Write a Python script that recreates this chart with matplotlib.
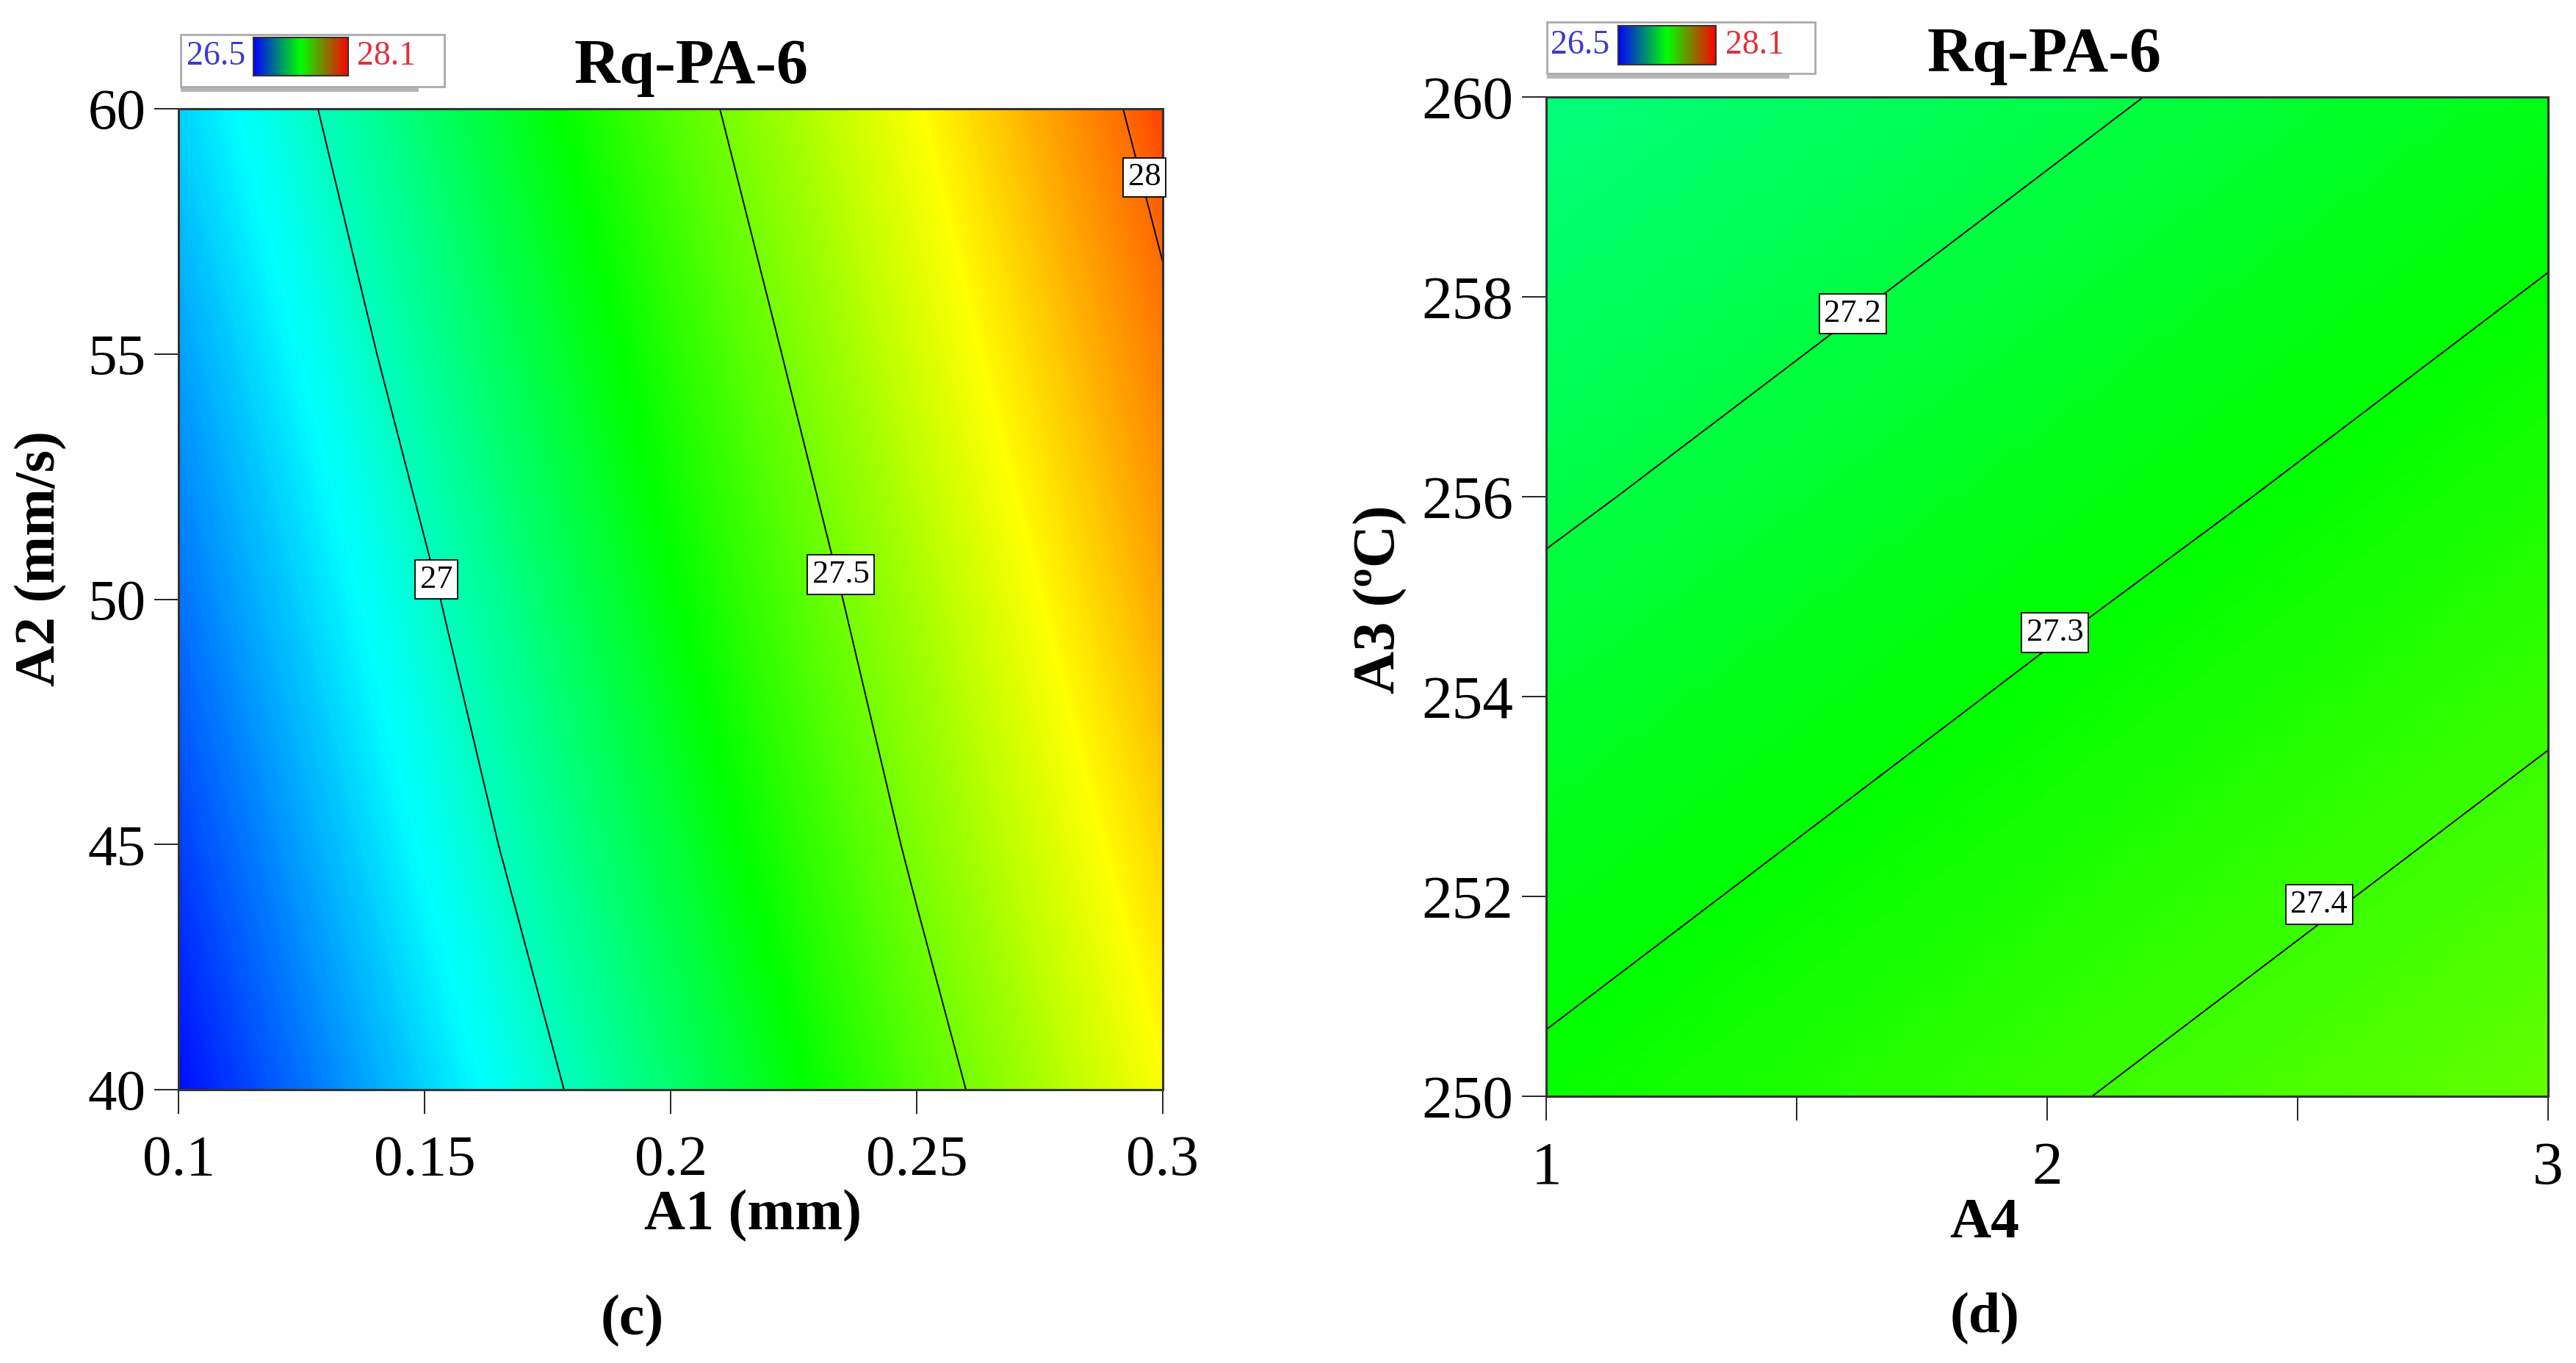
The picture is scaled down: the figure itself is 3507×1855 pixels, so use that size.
import numpy as np
import matplotlib
matplotlib.use("agg")
import matplotlib.pyplot as plt
from matplotlib.colors import LinearSegmentedColormap
from matplotlib.patches import Rectangle

plt.rcParams['font.family'] = ['Liberation Serif', 'DejaVu Serif']

# ---- data ----
# panel (c): Rq over A1 (mm) x A2 (mm/s)
a1_vals = [0.10, 0.15, 0.20, 0.25, 0.30]
a2_vals = [40, 45, 50, 55, 60]
rq_c = [
    [26.52, 26.83, 27.13, 27.44, 27.74],  # A2 = 40
    [26.60, 26.91, 27.21, 27.52, 27.82],  # 45
    [26.68, 26.98, 27.29, 27.59, 27.90],  # 50
    [26.75, 27.06, 27.36, 27.67, 27.97],  # 55
    [26.83, 27.13, 27.44, 27.74, 28.05],  # 60
]
levels_c = [27.0, 27.5, 28.0]
labelpos_c = [(0.1524, 50.4), (0.2346, 50.5), (0.2963, 58.6)]

# panel (d): Rq over A4 x A3 (ºC)
a4_vals = [1.0, 1.5, 2.0, 2.5, 3.0]
a3_vals = [250, 252, 254, 256, 258, 260]
rq_d = [
    [27.314, 27.353, 27.393, 27.432, 27.472],  # A3 = 250
    [27.272, 27.312, 27.351, 27.391, 27.430],  # 252
    [27.231, 27.270, 27.310, 27.349, 27.389],  # 254
    [27.189, 27.228, 27.268, 27.307, 27.347],  # 256
    [27.147, 27.187, 27.226, 27.266, 27.305],  # 258
    [27.106, 27.145, 27.185, 27.224, 27.264],  # 260
]
levels_d = [27.2, 27.3, 27.4]
labelpos_d = [(1.612, 257.83), (2.016, 254.64), (2.543, 251.92)]

rq_min, rq_max = 26.5, 28.1

# design-expert like colour ramp
cmap = LinearSegmentedColormap.from_list('dx', [
    (0.0, (0, 0, 1)),
    (0.25, (0, 1, 1)),
    (0.5, (0, 1, 0)),
    (0.78, (1, 1, 0)),
    (0.94, (1, 0.42, 0)),
    (1.0, (1, 0.1, 0)),
])
legend_cmap = LinearSegmentedColormap.from_list('leg', ['#0000ff', '#00ff00', '#ff0000'])

W, H = 3507, 1855
fig = plt.figure(figsize=(W / 100, H / 100), dpi=100)


def fx(x):
    return x / W


def fy(y):
    return 1 - y / H


def panel(rect, xs, ys, z, levels, labelpos, xticks, xticklabels, yticks, tick_fs):
    ax = fig.add_axes(rect)
    X, Y = np.meshgrid(xs, ys)
    Z = np.array(z)
    ax.contourf(X, Y, Z, levels=np.linspace(rq_min, rq_max, 321), cmap=cmap,
                vmin=rq_min, vmax=rq_max, antialiased=False)
    ax.contour(X, Y, Z, levels=levels, colors='black', linewidths=1.4)
    for lev, (lx, ly) in zip(levels, labelpos):
        ax.text(lx, ly, '%g' % lev, fontsize=32, ha='center', va='center',
                bbox=dict(boxstyle='square,pad=0.15', fc='white', ec='black', lw=1.3))
    ax.set_xlim(xs[0], xs[-1])
    ax.set_ylim(ys[0], ys[-1])
    ax.set_xticks(xticks)
    ax.set_xticklabels(xticklabels)
    ax.set_yticks(yticks)
    ax.tick_params(direction='out', length=24, width=1.2, labelsize=tick_fs)
    ax.tick_params(axis='x', pad=20)
    ax.tick_params(axis='y', pad=8)
    for s in ax.spines.values():
        s.set_linewidth(2.2)
        s.set_color('#333333')
    return ax


panel([fx(243), fy(1483), fx(1583) - fx(243), fy(148) - fy(1483)],
      a1_vals, a2_vals, rq_c, levels_c, labelpos_c,
      a1_vals, ['%g' % v for v in a1_vals], a2_vals, 57)

d_xt = a4_vals
d_xl = ['%g' % v if float(v).is_integer() else '' for v in a4_vals]
panel([fx(2105), fy(1492), fx(3469) - fx(2105), fy(132) - fy(1492)],
      a4_vals, a3_vals, rq_d, levels_d, labelpos_d,
      d_xt, d_xl, a3_vals, 60)

# titles, axis labels, panel letters
fig.text(fx(941), fy(113), 'Rq-PA-6', fontsize=62, fontweight='bold', ha='center', va='baseline')
fig.text(fx(2783), fy(97), 'Rq-PA-6', fontsize=62, fontweight='bold', ha='center', va='baseline')
fig.text(fx(1025), fy(1655), 'A1 (mm)', fontsize=56, fontweight='bold', ha='center', va='center')
fig.text(fx(2702), fy(1666), 'A4', fontsize=56, fontweight='bold', ha='center', va='center')
fig.text(fx(56), fy(760), 'A2 (mm/s)', fontsize=56, fontweight='bold', ha='center', va='center', rotation=90)
fig.text(fx(1879), fy(816), 'A3 (ºC)', fontsize=58, fontweight='bold', ha='center', va='center', rotation=90)
fig.text(fx(861), fy(1798), '(c)', fontsize=56, fontweight='bold', ha='center', va='center')
fig.text(fx(2702), fy(1795), '(d)', fontsize=56, fontweight='bold', ha='center', va='center')


# small colour legends in the top-left corners
def legend_box(x0, x1, y0, y1, bx0, bx1, by0, by1, tx_lo, tx_hi, ty):
    fig.patches.append(Rectangle((fx(x0), fy(y1 + 7)), fx(x1 - 35) - fx(x0), fy(y1) - fy(y1 + 7),
                                 transform=fig.transFigure, fc='#b5b5b5', ec='none', zorder=0))
    fig.patches.append(Rectangle((fx(x0), fy(y1)), fx(x1) - fx(x0), fy(y0) - fy(y1),
                                 transform=fig.transFigure, fc='white', ec='#aaaaaa', lw=2, zorder=0))
    bar = fig.add_axes([fx(bx0), fy(by1), fx(bx1) - fx(bx0), fy(by0) - fy(by1)])
    bar.set_zorder(5)
    bar.imshow(np.linspace(0, 1, 256)[None, :], aspect='auto', cmap=legend_cmap)
    bar.set_xticks([])
    bar.set_yticks([])
    for s in bar.spines.values():
        s.set_color('#333333')
        s.set_linewidth(1.5)
    fig.text(fx(tx_lo), fy(ty), '%g' % rq_min, color='#3a3ad0', fontsize=33, ha='center', va='center', zorder=6)
    fig.text(fx(tx_hi), fy(ty), '%g' % rq_max, color='#e0303a', fontsize=33, ha='center', va='center', zorder=6)


legend_box(246, 605, 47, 118, 345, 474, 51, 103, 294, 526, 77)
legend_box(2106, 2471, 30, 100, 2203, 2336, 35, 88, 2151, 2389, 62)

fig.savefig('out.png', dpi=100)
